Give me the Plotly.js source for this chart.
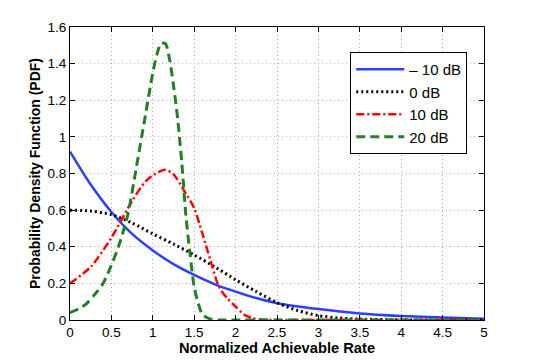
<!DOCTYPE html>
<html>
<head>
<meta charset="utf-8">
<script src="https://cdn.plot.ly/plotly-3.0.1.min.js"></script>
<style>
  body { margin: 0; background: #fff; }
  #plot { width: 534px; height: 360px; }
</style>
</head>
<body>
<div id="plot"></div>
<script>
// series labels
let seriesNames = ['\u2013 10 dB', '0 dB', '10 dB', '20 dB'];

// -10 dB
let xM10 = [0, 0.25, 0.5, 0.75, 1, 1.25, 1.5, 1.75, 2, 2.25, 2.5, 3, 3.5, 4, 4.5, 5];
let yM10 = [0.92, 0.74, 0.59, 0.47, 0.38, 0.305, 0.246, 0.195, 0.155, 0.12, 0.092, 0.06, 0.036, 0.022, 0.013, 0.007];

// 0 dB
let x0 = [0, 0.25, 0.5, 0.75, 1, 1.25, 1.5, 1.75, 2, 2.25, 2.5, 2.75, 3, 3.25, 3.5, 4, 4.5, 5];
let y0 = [0.60, 0.595, 0.575, 0.53, 0.47, 0.415, 0.355, 0.29, 0.22, 0.155, 0.095, 0.052, 0.024, 0.011, 0.005, 0.001, 0, 0];

// 10 dB
let x10 = [0, 0.25, 0.5, 0.75, 0.9, 1, 1.15, 1.25, 1.4, 1.5, 1.6, 1.7, 1.8, 1.9, 2, 2.1, 2.2, 2.3, 2.5, 3, 5];
let y10 = [0.20, 0.29, 0.45, 0.65, 0.75, 0.79, 0.82, 0.795, 0.69, 0.61, 0.47, 0.32, 0.18, 0.118, 0.073, 0.03, 0.01, 0.003, 0, 0, 0];

// 20 dB
let x20 = [0, 0.1, 0.2, 0.3, 0.4, 0.5, 0.6, 0.7, 0.8, 0.9, 1, 1.05, 1.1, 1.15, 1.2, 1.25, 1.3, 1.35, 1.4, 1.45, 1.5, 1.55, 1.6, 1.7, 1.8, 2, 3, 4, 5];
let y20 = [0.04, 0.06, 0.09, 0.14, 0.2, 0.3, 0.42, 0.58, 0.83, 1.09, 1.35, 1.45, 1.51, 1.51, 1.43, 1.28, 1.1, 0.86, 0.57, 0.36, 0.18, 0.09, 0.03, 0.005, 0, 0, 0, 0, 0];

let font = 'Liberation Sans, Arial, Helvetica, sans-serif';

let traces = [
    {x: xM10, y: yM10, name: seriesNames[0], mode: 'lines',
     line: {color: '#2b40ff', width: 2.5, shape: 'spline', smoothing: 0.8}},
    {x: x0, y: y0, name: seriesNames[1], mode: 'lines',
     line: {color: '#000000', width: 3, dash: '2px,3px', shape: 'spline', smoothing: 0.8}},
    {x: x10, y: y10, name: seriesNames[2], mode: 'lines',
     line: {color: '#ff0000', width: 2.5, dash: '8px,3px,2px,3px', shape: 'spline', smoothing: 0.8}},
    {x: x20, y: y20, name: seriesNames[3], mode: 'lines',
     line: {color: '#237f23', width: 3, dash: '9px,5px', shape: 'spline', smoothing: 0.8}}
];

let layout = {
    width: 534,
    height: 360,
    margin: {l: 70, r: 50, t: 27, b: 40, pad: 0},
    paper_bgcolor: '#fff',
    plot_bgcolor: '#fff',
    font: {family: font, size: 13, color: '#000'},
    showlegend: true,
    legend: {
        x: 0.677, y: 0.915, xanchor: 'left', yanchor: 'top',
        bgcolor: '#fff', bordercolor: '#000', borderwidth: 1,
        font: {family: font, size: 15, color: '#000'},
        itemwidth: 48
    },
    xaxis: {
        range: [0, 5], dtick: 0.5, tick0: 0,
        showline: true, linecolor: '#000', linewidth: 1, mirror: 'allticks',
        ticks: 'inside', ticklen: 5, tickcolor: '#000',
        showgrid: true, gridcolor: '#b0b0b0', griddash: '1px,3px', gridwidth: 1,
        zeroline: false,
        tickfont: {family: font, size: 13.5},
        title: {text: '<b>Normalized Achievable Rate</b>', font: {family: font, size: 14.7}, standoff: 2}
    },
    yaxis: {
        range: [0, 1.6], dtick: 0.2, tick0: 0,
        showline: true, linecolor: '#000', linewidth: 1, mirror: 'allticks',
        ticks: 'inside', ticklen: 5, tickcolor: '#000',
        showgrid: true, gridcolor: '#b0b0b0', griddash: '1px,3px', gridwidth: 1,
        zeroline: false,
        tickfont: {family: font, size: 13.5},
        title: {text: '<b>Probability Density Function (PDF)</b>', font: {family: font, size: 14}, standoff: 3}
    }
};

Plotly.newPlot('plot', traces, layout, {displayModeBar: false, staticPlot: true});
</script>
</body>
</html>
